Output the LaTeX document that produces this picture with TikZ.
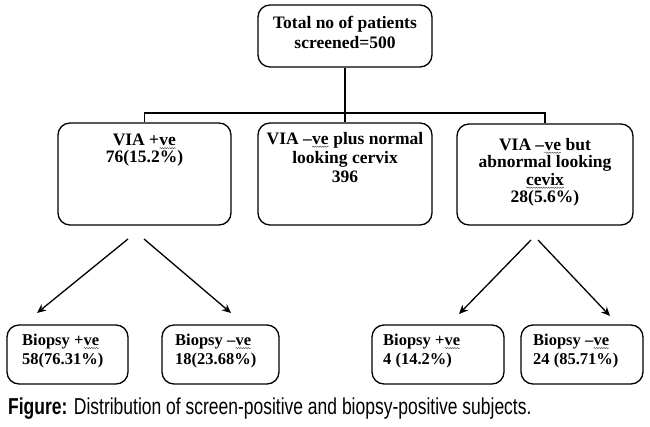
\documentclass[tikz,border=0pt]{standalone}
\usepackage{fontspec}
\setmainfont{Liberation Serif}
\newfontfamily\capfont[FakeStretch=0.76]{Liberation Sans}
\usetikzlibrary{arrows.meta,decorations.pathmorphing}
\newcommand{\sq}[1]{\tikz[baseline=(w.base)]{\node[inner sep=0pt,outer sep=0pt](w){#1};\draw[gray!70!black,line width=0.5pt,decorate,decoration={snake,amplitude=0.6pt,segment length=2.4pt}] ([yshift=-2.4pt]w.base west) -- ([yshift=-2.4pt]w.base east);}}
\begin{document}
\begin{tikzpicture}[x=1pt,y=-1pt,
  box/.style={draw, rounded corners=12pt, line width=1.3pt, inner sep=0pt},
  midtxt/.style={align=center, inner sep=0pt, anchor=north, font=\fontsize{17.5}{#1}\selectfont\bfseries},
  midtxt/.default=18,
  bottxt/.style={align=left, inner sep=0pt, anchor=north west, font=\fontsize{16.5}{18.5}\selectfont\bfseries},
  conn/.style={line width=1.6pt},
  arr/.style={line width=1.3pt, -{Stealth[length=9pt,width=8pt]}}]
\useasboundingbox (0,0) rectangle (650,427);
% top
\node[box, minimum width=174pt, minimum height=62pt] (top) at (345,36) {};
\node[midtxt=19.5] (toptxt) at (345,16) {Total no of patients\\screened=500};
% middle boxes
\node[box, minimum width=173pt, minimum height=102pt] (v1) at (144.5,174) {};
\node[box, minimum width=174pt, minimum height=102pt] (v2) at (345,174) {};
\node[box, minimum width=176pt, minimum height=101pt] (v3) at (545,174.5) {};
\node[midtxt=17] (t1) at (144.5,134) {VIA +\sq{ve}\\76(15.2\%)};
\node[midtxt=19] (t2) at (345,132) {VIA –\sq{ve} plus normal\\looking cervix\\396};
\node[midtxt=17.5] (t3) at (545,138) {VIA –\sq{ve} but\\abnormal looking\\\sq{cevix}\\28(5.6\%)};
% connectors
\coordinate (hub) at (345,113);
\draw[conn] (top.south) -- (hub);
\draw[conn] (hub) -| (v1.north);
\draw[conn] (hub) -| (v3.north);
\draw[conn] (hub) -- (v2.north);
% bottom boxes
\node[box, minimum width=121pt, minimum height=59pt] (b1) at (67.5,354.5) {};
\node[box, minimum width=117pt, minimum height=59pt] (b2) at (220.5,354.5) {};
\node[box, minimum width=132pt, minimum height=59pt] (b3) at (438,354.5) {};
\node[box, minimum width=122pt, minimum height=59pt] (b4) at (582,354.5) {};
\node[bottxt] (bt1) at (22,334) {Biopsy +\sq{ve}\\58(76.31\%)};
\node[bottxt] (bt2) at (175,334) {Biopsy –\sq{ve}\\18(23.68\%)};
\node[bottxt] (bt3) at (383,334) {Biopsy +\sq{ve}\\4 (14.2\%)};
\node[bottxt] (bt4) at (533,334) {Biopsy –\sq{ve}\\24 (85.71\%)};
% arrows
\coordinate (a1s) at (128,239); \coordinate (a1e) at (37,313);
\coordinate (a2s) at (144,239); \coordinate (a2e) at (231,313);
\coordinate (a3s) at (531,240); \coordinate (a3e) at (459,314);
\coordinate (a4s) at (538,240); \coordinate (a4e) at (610,316);
\draw[arr] (a1s) -- (a1e);
\draw[arr] (a2s) -- (a2e);
\draw[arr] (a3s) -- (a3e);
\draw[arr] (a4s) -- (a4e);
% caption
\node[anchor=base west, inner sep=0pt, font=\capfont\fontsize{23}{25}\selectfont] (cap) at (8,414) {\textbf{Figure:} Distribution of screen-positive and biopsy-positive subjects.};
\end{tikzpicture}
\end{document}
